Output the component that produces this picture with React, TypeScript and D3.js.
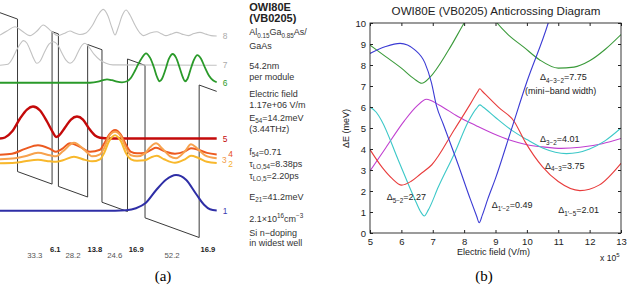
import React, { useRef, useEffect } from 'react';
import * as d3 from 'd3';

type Pt = [number, number];
type Part = [string, number]; // 0 normal, 1 subscript, 2 superscript

const FONT = 'Liberation Sans, Arial, Helvetica, sans-serif';

// ---------- (a) band structure ----------
const layerNm = [16.9, 33.3, 6.1, 28.2, 13.8, 24.6, 16.9, 52.2, 16.9];
const layerBarrier = [1, 0, 1, 0, 1, 0, 1, 0, 1];
const layerText = ['', '33.3', '6.1', '28.2', '13.8', '24.6', '16.9', '52.2', '16.9'];
const barrierMeV = 132.6;
const slopeMeVPerNm = 0.3275;

const levelNames = ['1', '2', '3', '4', '5', '6', '7', '8'];
const levelMeV = [-39.6, 1.65, 5.1, 9.0, 23.2, 71.7, 86.9, 112.3];
const levelColors = ['#2e2ea6', '#f8b82c', '#f7a24e', '#ec5a20', '#c40a0a', '#2a9a2a', '#c2c2c2', '#c2c2c2'];
const labelColors = ['#3a3ab0', '#f5b030', '#f29a48', '#e8501c', '#c40a0a', '#2a9a2a', '#aaaaaa', '#aaaaaa'];
const levelWidths = [2, 2, 2, 2, 2.4, 1.8, 1.1, 1.1];
const labelDx = [0, 5.6, -0.6, 5.6, 0, 0, 0, 0];
const labelDy = [0, 0.8, 0.4, -0.6, 0, 0, 0, 0];

// wavefunctions |psi|^2 : [position nm, amplitude meV]
const psi1: Pt[] = [[0, 0], [110.9, 0], [121.5, 0.4], [131.1, 2.2], [140.7, 7], [150.4, 17.8], [160, 27], [169.7, 31.1], [179.3, 27], [188.9, 14.8], [196.7, 5.2], [202.4, 1.3], [208.9, 0.3]];
const psi2: Pt[] = [[0, 0], [14.5, 0.4], [24.1, 1.7], [36.6, 3], [48.2, 1.7], [54, 1.3], [60.7, 2.6], [71.3, 5.7], [81.9, 3], [88.7, 1.7], [96.4, 3.5], [100.3, 8.7], [105.1, 19.1], [110.9, 24.4], [116.6, 19.1], [121.5, 8.7], [126.3, 3.5], [132.1, 2.2], [139.8, 2.6], [145.6, 5.2], [151.3, 6.5], [158.1, 3.5], [168.7, 0.4], [178.3, 3.5], [184.1, 6.5], [190.9, 4.8], [199.5, 1.3], [208.9, 0.3]];
const psi3: Pt[] = [[0, 0], [14.5, 0.9], [24.1, 2.6], [36.6, 5.7], [48.2, 3.5], [54, 2.6], [60.7, 7], [71.3, 14.4], [81.9, 7.8], [88.7, 2.6], [96.4, 4.4], [100.3, 9.6], [105.1, 20], [110.9, 24], [116.6, 20], [121.5, 9.6], [126.3, 3.5], [132.1, 2.6], [139.8, 5.2], [144.6, 10.4], [150.4, 13.9], [157.1, 8.7], [163.9, 2.6], [169.7, 0.9], [178.3, 7], [184.1, 13.1], [189.9, 9.6], [197.6, 3.5], [208.9, 0.9]];
const psi4: Pt[] = [[0, 0], [11.6, 0.9], [24.1, 5.2], [36.6, 8.4], [48.2, 5.2], [54, 2.6], [59.8, 5.2], [67.5, 10.1], [77.1, 7], [86.8, 2.6], [96.4, 4.4], [100.3, 9.6], [105.1, 17.4], [110.9, 21.7], [116.6, 17.4], [121.5, 8.7], [126.3, 2.6], [132.1, 1.3], [139.8, 1.7], [145.6, 4.4], [150.4, 6.1], [159.1, 3], [168.7, 0.9], [178.3, 3], [184.1, 5.7], [190.9, 4.4], [199.5, 1.7], [208.9, 0.4]];
const psi5: Pt[] = [[0, 0], [4.8, 0.9], [11.6, 6.1], [19.3, 17.4], [26, 25.2], [31.8, 27.8], [38.6, 24.4], [45.3, 14.8], [51.1, 5.2], [54, 1.3], [56.9, 2.6], [62.7, 9.6], [68.4, 16.5], [74.2, 19.1], [80, 16.5], [85.8, 8.7], [91.6, 2.6], [96.4, 0.7], [106, 0], [208.9, 0]];
const psi6: Pt[] = [[0, 0], [86.8, 0], [94.5, 0.9], [99.3, 2.2], [103.1, 3], [108, 2.2], [112.8, 0.9], [117.6, 0.4], [122.4, 1.3], [126.3, 4.4], [130.1, 10.4], [133, 15.7], [136.9, 21.8], [140.7, 25.6], [144.6, 21.8], [148.5, 13.1], [151.3, 5.2], [153.8, 1.3], [156.2, 3.5], [159.1, 10.4], [162.9, 20.9], [166.5, 25], [169.7, 21.8], [173.5, 12.2], [176.4, 4.4], [178.3, 1.3], [180.8, 3.5], [183.6, 11.3], [187, 20], [190.2, 24.1], [193.8, 20.9], [197.6, 13.1], [201.5, 6.1], [205.3, 2.2], [208.9, 0.4]];
const psi7: Pt[] = [[0, 0], [7.7, 0.9], [11.6, 5.2], [15.4, 12.2], [19.3, 18.3], [22.5, 21.4], [26, 19.1], [29.9, 11.3], [32.8, 5.2], [35.4, 1.7], [38.6, 3.5], [42.4, 10.4], [47.2, 18.3], [51.4, 20.5], [55.9, 17.4], [59.8, 10.4], [63.6, 4.4], [67.5, 1.7], [71.3, 4.4], [75.2, 11.3], [79, 17.4], [81.9, 19.1], [85.8, 15.7], [90.6, 9.6], [96.4, 4.6], [102.2, 1.7], [108.9, 0.3], [208.9, 0]];
const psi8: Pt[] = [[0, 0.9], [6.7, 4.4], [14.5, 8.1], [21.2, 4.4], [28.9, 0.4], [35.7, 4.4], [41.7, 9.6], [48.2, 5.2], [55.9, 0.4], [61.7, 2.2], [67.5, 4.4], [72.3, 2.6], [77.1, 1.3], [82.9, 2.6], [88.7, 8.7], [94.5, 18.3], [99.6, 23.2], [104.1, 17.4], [108, 7], [110.9, 0.9], [113.8, 7], [117.6, 17.4], [121.5, 22.6], [125.3, 18.3], [130.1, 9.6], [135, 2.6], [138.1, 0.4], [144.6, 2.6], [151.1, 3.7], [156.2, 1.7], [160, 0.4], [164.8, 1.7], [170.3, 3.2], [175.4, 1.7], [181.5, 0.4], [187, 2.2], [192.8, 3.2], [198.6, 1.7], [203.4, 0.4], [208.9, 0]];
const psis = [psi1, psi2, psi3, psi4, psi5, psi6, psi7, psi8];

const infoLines: { y: number; parts: Part[]; bold?: boolean }[] = [
  { y: 10.5, parts: [['OWI80E', 0]], bold: true },
  { y: 21.5, parts: [['(VB0205)', 0]], bold: true },
  { y: 35, parts: [['Al', 0], ['0.15', 1], ['Ga', 0], ['0.85', 1], ['As/', 0]] },
  { y: 49, parts: [['GaAs', 0]] },
  { y: 69, parts: [['54.2nm', 0]] },
  { y: 79.5, parts: [['per module', 0]] },
  { y: 96.5, parts: [['Electric field', 0]] },
  { y: 107.5, parts: [['1.17e+06 V/m', 0]] },
  { y: 120.5, parts: [['E', 0], ['54', 1], ['=14.2meV', 0]] },
  { y: 132, parts: [['(3.44THz)', 0]] },
  { y: 154.5, parts: [['f', 0], ['54', 1], ['=0.71', 0]] },
  { y: 166.5, parts: [['\u03c4', 0], ['LO,54', 1], ['=8.38ps', 0]] },
  { y: 178.5, parts: [['\u03c4', 0], ['LO,5', 1], ['=2.20ps', 0]] },
  { y: 199.5, parts: [['E', 0], ['21', 1], ['=41.2meV', 0]] },
  { y: 222, parts: [['2.1\u00d710', 0], ['16', 2], ['cm', 0], ['\u22123', 2]] },
  { y: 235.5, parts: [['Si n\u2212doping', 0]] },
  { y: 246, parts: [['in widest well', 0]] },
];

// ---------- (b) anticrossing diagram ----------
const fieldTicks = [5, 6, 7, 8, 9, 10, 11, 12, 13];
const energyTicks = [0, 1, 2, 3, 4, 5, 6, 7, 8, 9, 10];

const greenLow: Pt[] = [[5, 8.95], [5.5, 8.4], [6.0, 7.85], [6.4, 7.35], [6.65, 7.13], [6.9, 7.4], [7.5, 8.7], [8.0, 10.0], [8.2, 10.5]];
const greenHigh: Pt[] = [[8.8, 10.5], [9.05, 10.0], [9.4, 9.45], [9.9, 8.85], [10.4, 8.25], [11.0, 7.85], [11.5, 7.9], [12.0, 8.2], [12.5, 8.75], [13.0, 9.45]];
const blueCurve: Pt[] = [[5, 8.55], [5.5, 8.88], [5.96, 9.03], [6.43, 8.72], [6.75, 8.1], [6.96, 7.15], [7.12, 6.05], [7.33, 5.2], [7.8, 3.3], [8.2, 1.6], [8.4, 0.8], [8.48, 0.49], [8.58, 0.85], [8.75, 1.6], [9.0, 2.6], [9.5, 4.9], [10.0, 7.2], [10.68, 10.0], [10.8, 10.6]];
const redCurve: Pt[] = [[5, 3.97], [5.4, 3.1], [5.7, 2.6], [6.01, 2.28], [6.3, 2.45], [6.6, 2.8], [6.97, 3.25], [7.7, 4.95], [8.2, 6.15], [8.42, 6.7], [8.5, 6.87], [8.58, 6.75], [9.1, 5.98], [9.6, 5.3], [9.94, 4.35], [10.5, 3.15], [11.0, 2.45], [11.69, 2.02], [12.3, 2.28], [13, 3.32]];
const cyanCurve: Pt[] = [[5, 6.0], [5.2, 5.75], [5.37, 5.35], [5.9, 3.48], [6.43, 1.6], [6.6, 1.05], [6.73, 0.81], [6.86, 1.1], [7.18, 2.2], [7.71, 3.85], [8.13, 5.3], [8.4, 5.95], [8.5, 6.1], [8.6, 6.0], [9.0, 5.5], [9.51, 4.9], [10.0, 4.45], [10.5, 4.05], [11.26, 3.78], [12.0, 4.0], [12.5, 4.4], [13, 5.0]];
const magentaCurve: Pt[] = [[5, 2.95], [5.5, 4.05], [6.1, 5.35], [6.5, 6.05], [6.8, 6.37], [7.2, 6.1], [7.8, 5.55], [8.4, 5.1], [8.9, 4.75], [9.5, 4.4], [10.0, 4.2], [10.5, 4.1], [11.1, 4.03], [11.7, 4.08], [12.4, 4.25], [13, 4.5]];

const curves: { data: Pt[]; color: string }[] = [
  { data: greenLow, color: '#3a9a3a' },
  { data: greenHigh, color: '#3a9a3a' },
  { data: magentaCurve, color: '#c03fd0' },
  { data: cyanCurve, color: '#3cc8c8' },
  { data: redCurve, color: '#e83c3c' },
  { data: blueCurve, color: '#3b3bd4' },
];

// annotation anchors in (field, meV)
const notes: { f: number; e: number; parts: Part[] }[] = [
  { f: 10.42, e: 7.29, parts: [['\u0394', 0], ['4\u22123\u22122', 1], ['=7.75', 0]] },
  { f: 9.94, e: 6.62, parts: [['(mini\u2212band width)', 0]] },
  { f: 10.42, e: 4.31, parts: [['\u0394', 0], ['3\u22122', 1], ['=4.01', 0]] },
  { f: 10.58, e: 3.07, parts: [['\u0394', 0], ['4\u22123', 1], ['=3.75', 0]] },
  { f: 5.53, e: 1.55, parts: [['\u0394', 0], ['5\u22122', 1], ['=2.27', 0]] },
  { f: 8.88, e: 1.17, parts: [['\u0394', 0], ['1\u2032\u22122', 1], ['=0.49', 0]] },
  { f: 11.0, e: 0.93, parts: [['\u0394', 0], ['1\u2032\u22125', 1], ['=2.01', 0]] },
];

function rich(g: any, x: number, y: number, parts: Part[], size: number) {
  const t = g.append('text').attr('x', x).attr('y', y).attr('font-size', size);
  let cur = 0;
  parts.forEach(([s, k]) => {
    const off = k === 1 ? size * 0.3 : k === 2 ? -size * 0.42 : 0;
    const sp = t.append('tspan').attr('dy', off - cur).text(s);
    if (k) sp.attr('font-size', size * 0.7);
    cur = off;
  });
  return t;
}

function drawA(svg: any) {
  const g = svg.append('g').attr('font-family', FONT);
  const zScale = d3.scaleLinear().domain([0, d3.sum(layerNm)]).range([0, 216.7]);
  const eScale = d3.scaleLinear().domain([0, 100]).range([165.2, 50.2]);

  const pot: Pt[] = [];
  let z = 0;
  layerNm.forEach((t, i) => {
    const top = layerBarrier[i] ? barrierMeV : 0;
    pot.push([z, top - slopeMeVPerNm * z]);
    z += t;
    pot.push([z, top - slopeMeVPerNm * z]);
  });
  g.append('path')
    .attr('d', d3.line<Pt>().x(d => zScale(d[0])).y(d => eScale(d[1]))(pot))
    .attr('fill', 'none')
    .attr('stroke', '#3a3a3a')
    .attr('stroke-width', 1);

  for (let i = psis.length - 1; i >= 0; i--) {
    const base = levelMeV[i];
    const line = d3.line<Pt>()
      .x(d => zScale(d[0]))
      .y(d => eScale(base + d[1]))
      .curve(d3.curveMonotoneX);
    g.append('path')
      .attr('d', line(psis[i]))
      .attr('fill', 'none')
      .attr('stroke', levelColors[i])
      .attr('stroke-width', levelWidths[i]);
    g.append('text')
      .attr('x', 222.7 + labelDx[i])
      .attr('y', eScale(base) + 3 + labelDy[i])
      .attr('font-size', 8.4)
      .attr('fill', labelColors[i])
      .text(levelNames[i]);
  }

  let start = 0;
  layerNm.forEach((t, i) => {
    if (layerText[i]) {
      g.append('text')
        .attr('x', zScale(start + t / 2))
        .attr('y', layerBarrier[i] ? 252.3 : 257.5)
        .attr('text-anchor', 'middle')
        .attr('font-size', layerBarrier[i] ? 7.6 : 7.8)
        .attr('font-weight', layerBarrier[i] ? 'bold' : 'normal')
        .attr('fill', layerBarrier[i] ? '#222' : '#555')
        .text(layerText[i]);
    }
    start += t;
  });

  const info = g.append('g').attr('fill', '#333');
  infoLines.forEach(l => {
    const t = rich(info, 249.3, l.y, l.parts, l.bold ? 11 : 9);
    if (l.bold) t.attr('font-weight', 'bold').attr('fill', '#222');
  });

  svg.append('text')
    .attr('x', 163).attr('y', 281)
    .attr('text-anchor', 'middle')
    .attr('font-family', 'Liberation Serif, Times New Roman, serif')
    .attr('font-size', 15)
    .text('(a)');
}

function drawB(svg: any) {
  const g = svg.append('g').attr('font-family', FONT);
  const fx = d3.scaleLinear().domain([5, 13]).range([370, 621]);
  const fy = d3.scaleLinear().domain([0, 10]).range([233, 23]);

  g.append('clipPath').attr('id', 'plotclip')
    .append('rect').attr('x', 370).attr('y', 23).attr('width', 251).attr('height', 210);

  const line = d3.line<Pt>().x(d => fx(d[0])).y(d => fy(d[1])).curve(d3.curveMonotoneX);
  const cg = g.append('g').attr('clip-path', 'url(#plotclip)');
  curves.forEach(c => {
    cg.append('path')
      .attr('d', line(c.data))
      .attr('fill', 'none')
      .attr('stroke', c.color)
      .attr('stroke-width', 1.1);
  });

  const axes = [
    { ax: d3.axisBottom(fx).tickValues(fieldTicks).tickSize(-3).tickPadding(5.3), tr: 'translate(0,233)' },
    { ax: d3.axisTop(fx).tickValues(fieldTicks).tickSize(-3).tickFormat(() => ''), tr: 'translate(0,23)' },
    { ax: d3.axisLeft(fy).tickValues(energyTicks).tickSize(-3).tickPadding(4), tr: 'translate(370,0)' },
    { ax: d3.axisRight(fy).tickValues(energyTicks).tickSize(-3).tickFormat(() => ''), tr: 'translate(621,0)' },
  ];
  axes.forEach(a => {
    const ag = g.append('g').attr('transform', a.tr).call(a.ax as any);
    ag.attr('font-family', FONT).attr('font-size', 9.5).attr('color', '#222');
    ag.select('.domain').remove();
  });

  g.append('rect')
    .attr('x', 370).attr('y', 23).attr('width', 251).attr('height', 210)
    .attr('fill', 'none').attr('stroke', '#222').attr('stroke-width', 0.9);

  g.append('text')
    .attr('x', 496).attr('y', 14.8)
    .attr('text-anchor', 'middle')
    .attr('font-size', 11.6)
    .attr('fill', '#222')
    .text('OWI80E (VB0205) Anticrossing Diagram');

  g.append('text')
    .attr('x', 493.5).attr('y', 255)
    .attr('text-anchor', 'middle')
    .attr('font-size', 9)
    .attr('fill', '#222')
    .text('Electric field (V/m)');

  rich(g, 600, 260.5, [['x 10', 0], ['5', 2]], 8.6).attr('fill', '#222');

  g.append('text')
    .attr('transform', 'translate(349,128.5) rotate(-90)')
    .attr('text-anchor', 'middle')
    .attr('font-size', 9)
    .attr('fill', '#222')
    .text('\u0394E (meV)');

  const ng = g.append('g').attr('fill', '#222');
  notes.forEach(n => rich(ng, fx(n.f), fy(n.e), n.parts, 9));

  svg.append('text')
    .attr('x', 484).attr('y', 281)
    .attr('text-anchor', 'middle')
    .attr('font-family', 'Liberation Serif, Times New Roman, serif')
    .attr('font-size', 15)
    .text('(b)');
}

export default function App() {
  const svgRef = useRef<SVGSVGElement>(null);

  useEffect(() => {
    const svg = d3.select(svgRef.current);
    svg.selectAll('*').remove();
    drawA(svg);
    drawB(svg);
  }, []);

  return (
    <svg
      ref={svgRef}
      width={627}
      height={288}
      style={{ position: 'absolute', left: 0, top: 0, background: '#fff' }}
    />
  );
}
